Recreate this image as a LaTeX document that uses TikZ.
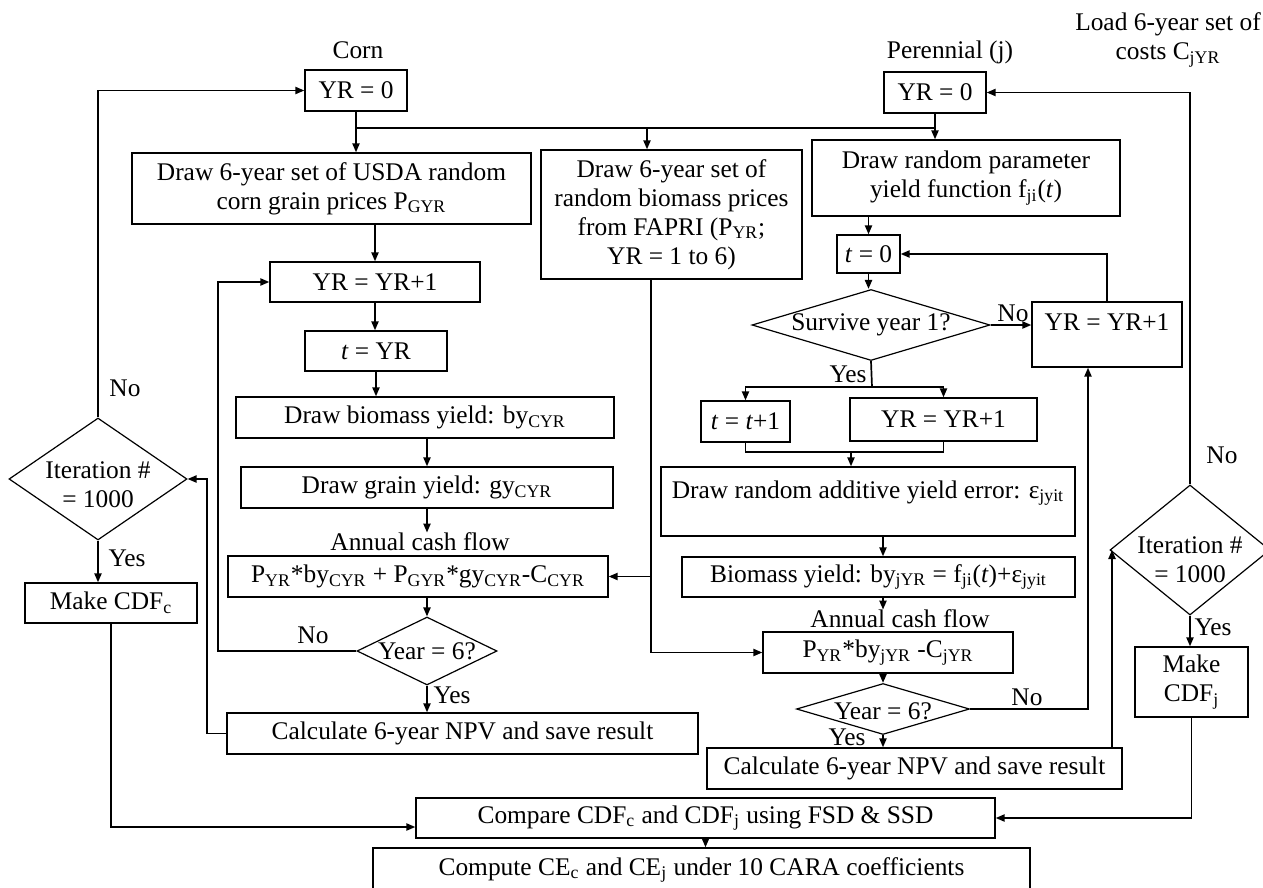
\documentclass[tikz,border=0pt]{standalone}
\usepackage{fontspec}
\setmainfont{Liberation Serif}
\usetikzlibrary{calc, arrows.meta, shapes.geometric}
\newcommand{\flowfont}{\fontsize{12.7}{14.5}\selectfont}
\newcommand{\sbs}[1]{\textsubscript{#1}}

\begin{document}
\begin{tikzpicture}[x=0.5pt, y=-0.5pt,
  blk/.style={draw, line width=0.7pt, inner sep=0pt, align=center, font=\flowfont},
  dec/.style={draw, diamond, line width=0.6pt, inner sep=0pt},
  txt/.style={inner sep=0pt, align=center, font=\flowfont},
  arw/.style={-{Triangle[length=4.5pt, width=3.6pt]}, line width=0.85pt},
  lin/.style={line width=0.85pt},
]
\useasboundingbox (0,0) rectangle (1263,888);

\node[txt] (corn) at (358,50) {Corn};
\node[blk, minimum width=51pt, minimum height=20.5pt] (cyr0) at (356,90.5) {YR = 0};
\node[blk, minimum width=199.5pt, minimum height=35.5pt] (usda) at (331.5,188.5)
  {Draw 6-year set of USDA random\\corn grain prices P\sbs{GYR}};
\node[blk, minimum width=105pt, minimum height=20pt] (cinc) at (375,282) {YR = YR+1};
\node[blk, minimum width=71pt, minimum height=20pt] (ctyr) at (376,351) {\textit{t} = YR};
\node[blk, minimum width=189pt, minimum height=20.5pt] (cbio) at (425,417.5)
  {Draw biomass yield: by\sbs{CYR}};
\node[blk, minimum width=186pt, minimum height=20.5pt] (cgrain) at (427,487.5)
  {Draw grain yield: gy\sbs{CYR}};
\node[txt] (clab) at (420,542) {Annual cash flow};
\node[blk, minimum width=190pt, minimum height=20.5pt] (ccash) at (418,576.5)
  {P\sbs{YR}*by\sbs{CYR} + P\sbs{GYR}*gy\sbs{CYR}-C\sbs{CYR}};
\node[dec, minimum width=70pt, minimum height=34pt,
  label={[txt]center:{Year = 6?}}] (cyear) at (427,651) {};
\node[blk, minimum width=235.5pt, minimum height=20.5pt] (cnpv) at (462.5,733.5)
  {Calculate 6-year NPV and save result};
\node[dec, minimum width=89pt, minimum height=61pt,
  label={[txt, yshift=-3pt]center:{Iteration \#\\= 1000}}] (citer) at (98,479) {};
\node[blk, minimum width=86pt, minimum height=20pt] (ccdf) at (111,603) {Make CDF\sbs{c}};

\node[txt] (peren) at (950,52) {Perennial (j)};
\node[txt] (load) at (1168,40) {Load 6-year set of\\costs C\sbs{jYR}};
\node[blk, minimum width=51pt, minimum height=20.5pt] (pyr0) at (935,92.5) {YR = 0};
\node[blk, minimum width=130.5pt, minimum height=64.5pt] (fapri) at (671.5,214.5)
  {Draw 6-year set of\\random biomass prices\\from FAPRI (P\sbs{YR};\\YR = 1 to 6)};
\node[blk, minimum width=154pt, minimum height=38pt] (param) at (966,178)
  {Draw random parameter\\yield function f\sbs{ji}(\textit{t})};
\node[blk, minimum width=31.5pt, minimum height=19pt] (pt0) at (868.5,254) {\textit{t} = 0};
\node[dec, minimum width=119pt, minimum height=35.5pt,
  label={[txt]center:{Survive year 1?}}] (surv) at (871,325) {};
\node[blk, minimum width=75pt, minimum height=32.5pt,
  label={[txt, anchor=north, yshift=-6pt]north:{YR = YR+1}}] (pinc1) at (1107,334.5) {};
\node[blk, minimum width=44.5pt, minimum height=20.5pt] (ptt) at (745.5,421.5)
  {\textit{t} = \textit{t}+1};
\node[blk, minimum width=93.5pt, minimum height=21.5pt] (pinc2) at (943.5,419.5) {YR = YR+1};
\node[blk, minimum width=207pt, minimum height=34.5pt,
  label={[txt, anchor=north, yshift=-7pt]north:{Draw random additive yield error: ε\sbs{jyit}}}]
  (perr) at (868,501.5) {};
\node[blk, minimum width=196.5pt, minimum height=20pt] (pbio) at (878.5,577)
  {Biomass yield: by\sbs{jYR} = f\sbs{ji}(\textit{t})+ε\sbs{jyit}};
\node[txt] (plab) at (900,619) {Annual cash flow};
\node[blk, minimum width=125pt, minimum height=20.5pt] (pcash) at (888,652.5)
  {P\sbs{YR}*by\sbs{jYR} -C\sbs{jYR}};
\node[dec, minimum width=86.5pt, minimum height=25.5pt,
  label={[txt, yshift=-1pt]center:{Year = 6?}}] (pyear) at (883,709) {};
\node[blk, minimum width=207.5pt, minimum height=20.5pt] (pnpv) at (914.5,768.5)
  {Calculate 6-year NPV and save result};
\node[dec, minimum width=80pt, minimum height=65pt,
  label={[txt, yshift=-5pt]center:{Iteration \#\\= 1000}}] (piter) at (1190,550) {};
\node[blk, minimum width=56.5pt, minimum height=35pt] (pcdf) at (1191.5,682) {Make\\CDF\sbs{j}};

\node[blk, minimum width=289.5pt, minimum height=20pt] (comp) at (705.5,818)
  {Compare CDF\sbs{c} and CDF\sbs{j} using FSD \& SSD};
\node[blk, minimum width=328.5pt, minimum height=22pt] (ce) at (701.5,870)
  {Compute CE\sbs{c} and CE\sbs{j} under 10 CARA coefficients};

\node[txt] (itcno) at (125,388) {No};
\node[txt] (itcyes) at (127,558) {Yes};
\node[txt] (yrcno) at (313,635) {No};
\node[txt] (yrcyes) at (452,695) {Yes};
\node[txt] (svno) at (1013,313) {No};
\node[txt] (svyes) at (848,374) {Yes};
\node[txt] (yrpno) at (1027,697) {No};
\node[txt] (yrpyes) at (847,737) {Yes};
\node[txt] (itpno) at (1222,455) {No};
\node[txt] (itpyes) at (1213,627) {Yes};

\coordinate (fj) at (647,128);
\coordinate (fl) at (651,0);
\coordinate (cl) at (218,0);
\coordinate (cr) at (207,0);
\coordinate (sy) at (872,387);
\coordinate (mj) at (851,452);
\coordinate (pr) at (1088,0);
\coordinate (pq) at (1112,0);

\draw[arw] (citer.north) |- (cyr0.west);
\draw[arw] (cyr0.south) -- (cyr0.south |- usda.north);
\draw[lin] (cyr0.south |- fj) -- (pyr0.south |- fj);
\draw[arw] (fj) -- (fj |- fapri.north);
\draw[arw] (pyr0.south) -- (pyr0.south |- param.north);
\draw[arw] (usda.south -| cinc) -- (cinc.north);
\draw[arw] (cinc.south) -- (cinc.south |- ctyr.north);
\draw[arw] (ctyr.south) -- (ctyr.south |- cbio.north);
\draw[arw] (cbio.south -| cgrain) -- (cgrain.north);
\draw[arw] (cgrain.south) -- (cgrain.south |- clab.north);
\draw[arw] (ccash.south -| cyear) -- (cyear.north);
\draw[arw] (cyear.west) -- (cyear.west -| cl) |- (cinc.west);
\draw[arw] (cyear.south) -- (cnpv.north -| cyear);
\draw[arw] (cnpv.west) -- (cnpv.west -| cr) |- (citer.east);
\draw[arw] (citer.south) -- (citer.south |- ccdf.north);
\draw[arw] (ccdf.south) |- ([yshift=-4.5pt]comp.west);
\draw[arw] (fapri.south -| fl) |- (pcash.west);
\draw[arw] (fl |- ccash.east) -- (ccash.east);
\draw[arw] (param.south -| pt0) -- (pt0.north);
\draw[arw] (pt0.south) -- (pt0.south |- surv.north);
\draw[arw] (surv.east) -- (surv.east -| pinc1.west);
\draw[arw] (pinc1.north) |- (pt0.east);
\draw[lin] (surv.south) -- (sy);
\draw[arw] (sy) -| (ptt.north);
\draw[arw] (sy) -| (pinc2.north);
\draw[lin] (ptt.south) |- (mj) -| (pinc2.south);
\draw[arw] (mj) -- (mj |- perr.north);
\draw[arw] (perr.south -| pyear) -- (pbio.north -| pyear);
\draw[arw] (pbio.south -| pyear) -- (plab.north -| pyear);
\draw[arw] (pcash.south -| pyear) -- (pyear.north);
\draw[arw] (pyear.south) -- (pyear.south |- pnpv.north);
\draw[arw] (pyear.east) -| (pr |- pinc1.south);
\draw[arw] (pnpv.north -| pq) -- (pq |- piter.west);
\draw[arw] (piter.north) |- (pyr0.east);
\draw[arw] (piter.south) -- (piter.south |- pcdf.north);
\draw[arw] (pcdf.south) |- (comp.east);
\draw[arw] (comp.south) -- (comp.south |- ce.north);
\end{tikzpicture}
\end{document}
